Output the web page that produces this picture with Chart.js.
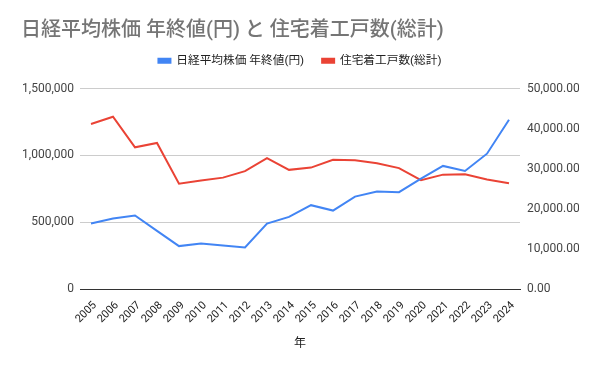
<!DOCTYPE html>
<html lang="ja">
<head>
  <meta charset="UTF-8" />
  <title>日経平均株価 年終値(円) と 住宅着工戸数(総計)</title>
  <script src="https://cdn.jsdelivr.net/npm/chart.js"></script>
  <style>
    html, body { margin: 0; padding: 0; background: #fff; }
    #wrap { position: relative; width: 600px; height: 371px; }
  </style>
</head>
<body>
  <div id="wrap">
    <canvas id="nikkeiChart"></canvas>
  </div>

  <script>
    // データ
    const years = ['2005', '2006', '2007', '2008', '2009', '2010', '2011', '2012', '2013', '2014',
      '2015', '2016', '2017', '2018', '2019', '2020', '2021', '2022', '2023', '2024'];
    const nikkei = [16340, 17590, 18340, 14520, 10710, 11360, 10860, 10360, 16340, 18010,
      20930, 19580, 23070, 24320, 24170, 27550, 30720, 29470, 33780, 42250];
    const housingStarts = [1236175, 1290391, 1060741, 1093519, 788410, 813126, 834117, 882797, 980025, 892261,
      909299, 967237, 964641, 942370, 905123, 815340, 856484, 859529, 819623, 792098];
    const leftTicks = [0, 500000, 1000000, 1500000];
    const rightTicks = [0, 10000, 20000, 30000, 40000, 50000];

    const FONT = "Roboto, 'Noto Sans CJK JP', sans-serif";

    // 凡例の下に余白を足す
    const legendGap = {
      id: 'legendGap',
      beforeLayout(chart) {
        const legend = chart.legend;
        if (!legend || legend._gapPatched) return;
        const fit = legend.fit;
        legend.fit = function () {
          fit.call(this);
          this.height += 12;
        };
        legend._gapPatched = true;
      }
    };

    new Chart(document.getElementById('nikkeiChart'), {
      type: 'line',
      data: {
        labels: years,
        datasets: [{
          label: '日経平均株価 年終値(円)',
          data: nikkei,
          yAxisID: 'y1',
          borderColor: '#4285f4',
          backgroundColor: '#4285f4',
          borderWidth: 2,
          pointRadius: 0,
          tension: 0
        }, {
          label: '住宅着工戸数(総計)',
          data: housingStarts,
          yAxisID: 'y',
          borderColor: '#ea4335',
          backgroundColor: '#ea4335',
          borderWidth: 2,
          pointRadius: 0,
          tension: 0
        }]
      },
      plugins: [legendGap],
      options: {
        responsive: true,
        maintainAspectRatio: false,
        animation: false,
        layout: { padding: { left: 21, right: 21, top: 0, bottom: 0 } },
        plugins: {
          title: {
            display: true,
            text: '日経平均株価 年終値(円) と 住宅着工戸数(総計)',
            align: 'start',
            color: '#757575',
            font: { family: FONT, size: 20, weight: '500' },
            padding: { top: 19, bottom: -6 }
          },
          legend: {
            position: 'top',
            labels: {
              boxWidth: 12,
              boxHeight: 4,
              color: '#222',
              font: { family: FONT, size: 11.7 },
              padding: 18
            }
          },
          tooltip: { enabled: false }
        },
        scales: {
          x: {
            offset: true,
            grid: { display: false, drawTicks: false },
            border: { display: true, color: '#333', width: 1 },
            ticks: {
              color: '#222',
              font: { family: FONT, size: 11 },
              minRotation: 45,
              maxRotation: 45,
              autoSkip: false,
              padding: 10,
              labelOffset: 4
            },
            title: {
              display: true,
              text: '年',
              color: '#222',
              font: { family: FONT, size: 12 },
              padding: { top: 4, bottom: 20 }
            },
            afterFit: scale => { scale.height = 82; }
          },
          y: {
            position: 'left',
            min: 0,
            max: 1500000,
            afterBuildTicks: axis => { axis.ticks = leftTicks.map(v => ({ value: v })); },
            grid: { color: '#cccccc', drawTicks: false },
            border: { display: false },
            ticks: {
              color: '#444',
              font: { family: FONT, size: 12 },
              padding: 6,
              callback: v => v.toLocaleString('en-US')
            },
            afterFit: scale => { scale.width = 59; }
          },
          y1: {
            position: 'right',
            min: 0,
            max: 50000,
            afterBuildTicks: axis => { axis.ticks = rightTicks.map(v => ({ value: v })); },
            grid: { display: false, drawTicks: false },
            border: { display: false },
            ticks: {
              color: '#444',
              font: { family: FONT, size: 12 },
              padding: 7,
              callback: v => v.toLocaleString('en-US', { minimumFractionDigits: 2, maximumFractionDigits: 2 })
            },
            afterFit: scale => { scale.width = 59; }
          }
        }
      }
    });
  </script>
</body>
</html>
